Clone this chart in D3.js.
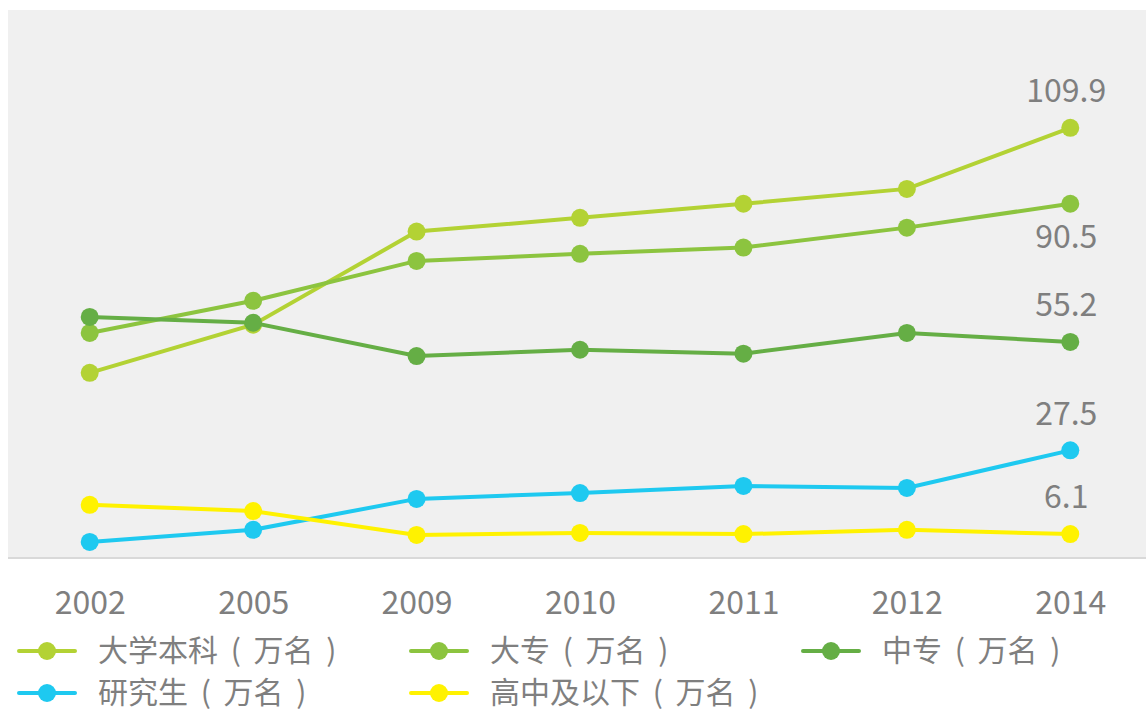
<!DOCTYPE html>
<html>
<head>
<meta charset="utf-8">
<script src="https://cdn.jsdelivr.net/npm/d3@7"></script>
<style>
  html, body { margin: 0; padding: 0; background: #fff; }
  svg { display: block; }
  text { font-family: "Noto Sans CJK SC", "Noto Sans", sans-serif; fill: #7f7f7f; }
</style>
</head>
<body>
<svg width="1146" height="711"></svg>
<script>
const years = ['2002', '2005', '2009', '2010', '2011', '2012', '2014'];

const seriesNames = ['大学本科 ( 万名 )', '大专 ( 万名 )', '中专 ( 万名 )', '研究生 ( 万名 )', '高中及以下 ( 万名 )'];
const colors = ['#b3d234', '#8cc43f', '#65ae45', '#1ec9f0', '#fff200'];

const undergrad = [47.3, 59.6, 83.4, 86.9, 90.5, 94.3, 109.9];
const college = [57.5, 65.7, 75.9, 77.7, 79.3, 84.4, 90.5];
const technical = [61.6, 60.1, 51.6, 53.2, 52.2, 57.5, 55.2];
const graduate = [4.1, 7.2, 15.1, 16.6, 18.4, 17.9, 27.5];
const highSchool = [13.6, 12.0, 5.9, 6.4, 6.1, 7.2, 6.1];

const allValues = [undergrad, college, technical, graduate, highSchool];
// label for the last point: above (-1) or below (+1)
const labelPos = [-1, 1, -1, -1, -1];

const svg = d3.select('svg');

const plot = { left: 8, right: 1146, top: 10, bottom: 558 };

const x = d3.scalePoint()
  .domain(years)
  .range([plot.left, plot.left + 1144])
  .padding(0.5);

const y = d3.scaleLinear()
  .domain([0, 140])
  .range([plot.bottom, plot.top]);

svg.append('rect')
  .attr('x', plot.left)
  .attr('y', plot.top)
  .attr('width', plot.right - plot.left)
  .attr('height', plot.bottom - plot.top)
  .attr('fill', '#f0f0f0');

const xAxis = svg.append('g')
  .attr('transform', `translate(0,${plot.bottom})`)
  .call(d3.axisBottom(x).tickSize(0));
xAxis.select('.domain').attr('stroke', '#d9d9d9').attr('stroke-width', 2)
  .attr('d', `M${plot.left},0H${plot.right}`);
xAxis.selectAll('text')
  .attr('font-size', 32)
  .attr('font-family', '"Noto Sans CJK SC", sans-serif')
  .attr('fill', '#7f7f7f')
  .attr('dy', '0.35em')
  .attr('y', 45);

const line = d3.line()
  .x((d, i) => x(years[i]))
  .y((d) => y(d));

allValues.forEach((vals, s) => {
  const g = svg.append('g');
  g.append('path')
    .datum(vals)
    .attr('d', line)
    .attr('fill', 'none')
    .attr('stroke', colors[s])
    .attr('stroke-width', 4);
  g.selectAll('circle')
    .data(vals)
    .enter()
    .append('circle')
    .attr('cx', (d, i) => x(years[i]))
    .attr('cy', (d) => y(d))
    .attr('r', 9)
    .attr('fill', colors[s]);

  const last = vals.length - 1;
  g.append('text')
    .attr('x', x(years[last]) - 4)
    .attr('y', y(vals[last]) + (labelPos[s] < 0 ? -37 : 33))
    .attr('text-anchor', 'middle')
    .attr('dy', '0.35em')
    .attr('font-size', 32)
    .text(vals[last].toFixed(1));
});

// legend, 3 per row
const legend = svg.append('g');
seriesNames.forEach((name, i) => {
  const col = i % 3;
  const row = Math.floor(i / 3);
  const lx = 19 + col * 392;
  const ly = 651 + row * 42;
  const item = legend.append('g').attr('transform', `translate(${lx},${ly})`);
  item.append('line')
    .attr('x1', 0).attr('x2', 56)
    .attr('y1', 0).attr('y2', 0)
    .attr('stroke', colors[i])
    .attr('stroke-width', 4)
    .attr('stroke-linecap', 'round');
  item.append('circle')
    .attr('cx', 28).attr('cy', 0).attr('r', 9)
    .attr('fill', colors[i]);
  item.append('text')
    .attr('x', 79)
    .attr('y', 0)
    .attr('dy', '0.34em')
    .attr('font-size', 30)
    .attr('word-spacing', 6)
    .style('white-space', 'pre')
    .text(name);
});
</script>
</body>
</html>
